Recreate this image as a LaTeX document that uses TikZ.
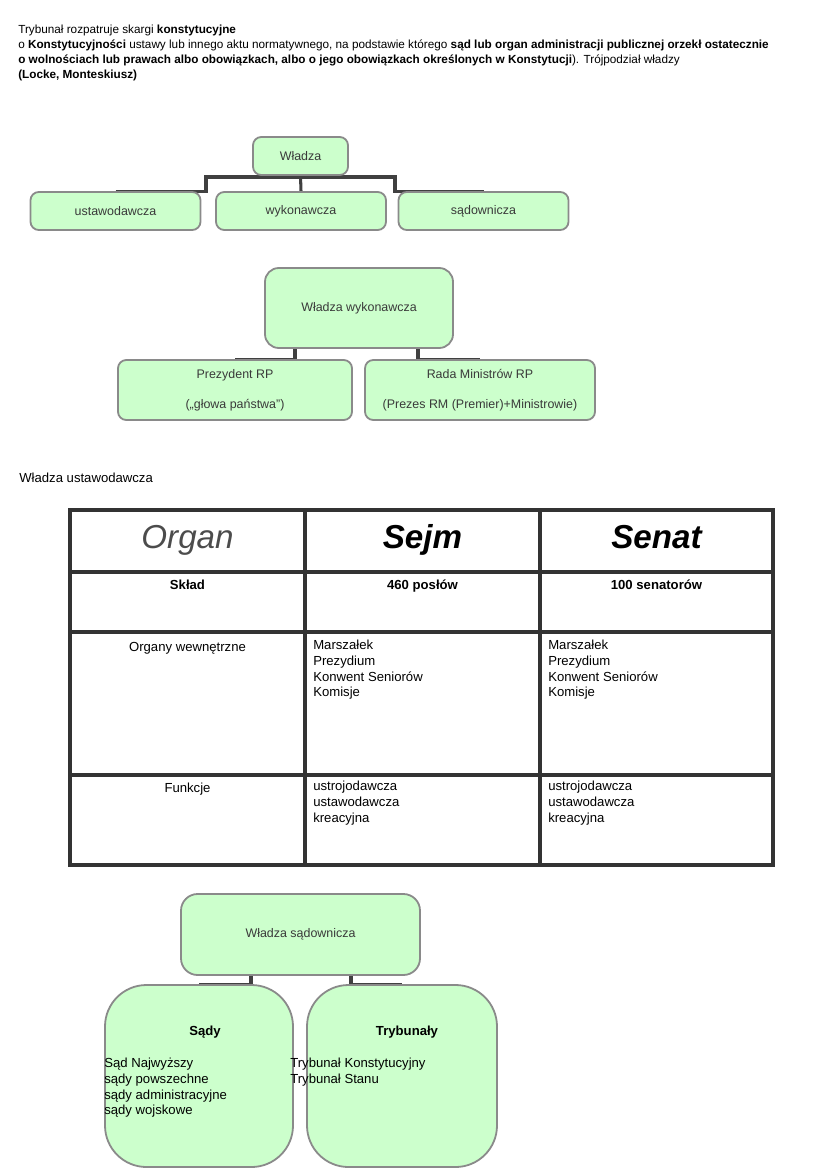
\documentclass[tikz,border=0pt]{standalone}
\usepackage{fontspec}
\setmainfont{Liberation Sans}
\usetikzlibrary{backgrounds}
\definecolor{boxfill}{HTML}{CCFFCC}
\definecolor{boxline}{HTML}{8A8A8A}
\definecolor{linkgray}{HTML}{404040}
\definecolor{txtgray}{HTML}{3A3A3A}
\newcommand\pxu{0.2542mm}

\tikzset{
	box/.style={draw=boxline, fill=boxfill, line width=1.3pt, rounded corners=6pt, text=txtgray, font=\fontsize{9}{11}\selectfont, align=center, inner sep=0pt},
	link/.style={draw=linkgray, line width=2.2pt},
	tab/.style={draw=black!80, line width=2.2pt},
	cell/.style={font=\fontsize{9.5}{11.3}\selectfont, inner sep=0pt, align=center},
	list/.style={font=\fontsize{9.5}{11.3}\selectfont, inner sep=0pt, align=left, anchor=north west},
	head/.style={font=\fontsize{24}{28}\selectfont\itshape, inner sep=0pt, anchor=base},
}

\begin{document}
\begin{tikzpicture}[x=\pxu, y=-\pxu]
			%%%%% START %%%%%
			\useasboundingbox (0,0) rectangle (826,1169);
			
			\node[anchor=north west, align=left, inner sep=0pt, font=\fontsize{8.5}{10.8}\selectfont] (intro) at (18,25) {Trybunał rozpatruje skargi \textbf{konstytucyjne}\\
				o \textbf{Konstytucyjności} ustawy lub innego aktu normatywnego, na podstawie którego \textbf{sąd lub organ administracji publicznej orzekł ostatecznie}\\
				\textbf{o wolnościach lub prawach albo obowiązkach, albo o jego obowiązkach określonych w Konstytucji}). Trójpodział władzy\\
				\textbf{(Locke, Monteskiusz)}};
			
			% trojpodzial
			\node[box, minimum width=95*\pxu, minimum height=38*\pxu] (wl) at (300.5,156) {Władza};
			\node[box, minimum width=170*\pxu, minimum height=38*\pxu] (ust) at (115.5,211) {ustawodawcza};
			\node[box, minimum width=170*\pxu, minimum height=38*\pxu] (wyk) at (301,211) {wykonawcza};
			\node[box, minimum width=170*\pxu, minimum height=38*\pxu] (sad) at (483.5,211) {sądownicza};
			\coordinate (ja) at (206,177);
			\coordinate (jb) at (395,177);
			
			% wykonawcza
			\node[box, rounded corners=10pt, minimum width=188*\pxu, minimum height=80*\pxu] (wyk2) at (359,308) {Władza wykonawcza};
			\node[box, minimum width=234*\pxu, minimum height=60*\pxu] (prez) at (235,390) {Prezydent RP\\ \\(„głowa państwa”)};
			\node[box, minimum width=230*\pxu, minimum height=60*\pxu] (rada) at (480,390) {Rada Ministrów RP\\ \\(Prezes RM (Premier)+Ministrowie)};
			\coordinate (jc) at (295,348);
			\coordinate (jd) at (418,348);
			
			\node[anchor=west, inner sep=0pt, font=\fontsize{9.5}{11}\selectfont] (ustlab) at (19,478) {Władza ustawodawcza};
			
			% tabela
			\draw[tab] (70,510) rectangle (773,865);
			\draw[tab] (305,510) -- (305,865);
			\draw[tab] (540,510) -- (540,865);
			\draw[tab] (70,572) -- (773,572);
			\draw[tab] (70,632) -- (773,632);
			\draw[tab] (70,775) -- (773,775);
			
			\node[head, text=black!70] (organ) at (187.5,548) {Organ};
			\node[head, font=\fontsize{24}{28}\selectfont\bfseries\itshape] (sejm) at (422.5,548) {Sejm};
			\node[head, font=\fontsize{24}{28}\selectfont\bfseries\itshape] (senat) at (656.5,548) {Senat};
			
			\node[cell, anchor=base, font=\fontsize{9.5}{11.3}\selectfont\bfseries] (sklad) at (187.5,589) {Skład};
			\node[cell, anchor=base, font=\fontsize{9.5}{11.3}\selectfont\bfseries] (posl) at (422.5,589) {460 posłów};
			\node[cell, anchor=base, font=\fontsize{9.5}{11.3}\selectfont\bfseries] (sen) at (656.5,589) {100 senatorów};
			
			\node[cell, anchor=base] (organy) at (187.5,651) {Organy wewnętrzne};
			\node[list] (orgsejm) at (313,640) {Marszałek\\Prezydium\\Konwent Seniorów\\Komisje};
			\node[list] (orgsen) at (548,640) {Marszałek\\Prezydium\\Konwent Seniorów\\Komisje};
			
			\node[cell, anchor=base] (funk) at (187.5,792) {Funkcje};
			\node[list] (funsejm) at (313,781) {ustrojodawcza\\ustawodawcza\\kreacyjna};
			\node[list] (funsen) at (548,781) {ustrojodawcza\\ustawodawcza\\kreacyjna};
			
			% sadownicza
			\node[box, rounded corners=12pt, minimum width=239*\pxu, minimum height=81*\pxu] (wsad) at (300.5,934.5) {Władza sądownicza};
			\node[box, rounded corners=30pt, minimum width=188*\pxu, minimum height=182*\pxu] (sady) at (199,1076) {};
			\node[box, rounded corners=30pt, minimum width=190*\pxu, minimum height=182*\pxu] (tryb) at (402,1076) {};
			\coordinate (je) at (251,975);
			\coordinate (jf) at (351,975);
			
			\node[cell, font=\fontsize{9.5}{11.3}\selectfont\bfseries] (sadyt) at (205,1032) {Sądy};
			\node[cell, font=\fontsize{9.5}{11.3}\selectfont\bfseries] (trybt) at (407,1032) {Trybunały};
			\node[list] (sadyl) at (104,1058) {Sąd Najwyższy\\sądy powszechne\\sądy administracyjne\\sądy wojskowe};
			\node[list] (trybl) at (290,1058) {Trybunał Konstytucyjny\\Trybunał Stanu};
			
			\begin{scope}[on background layer]
				\draw[link] (ust.north) -| (ja) -- (jb) |- (sad.north);
				\draw[link] (wl.south) -- (wyk.north);
				\draw[link] (prez.north) -| (jc);
				\draw[link] (rada.north) -| (jd);
				\draw[link] (sady.north) -| (je);
				\draw[link] (tryb.north) -| (jf);
			\end{scope}
			%%%%% END %%%%%
\end{tikzpicture}
\end{document}
